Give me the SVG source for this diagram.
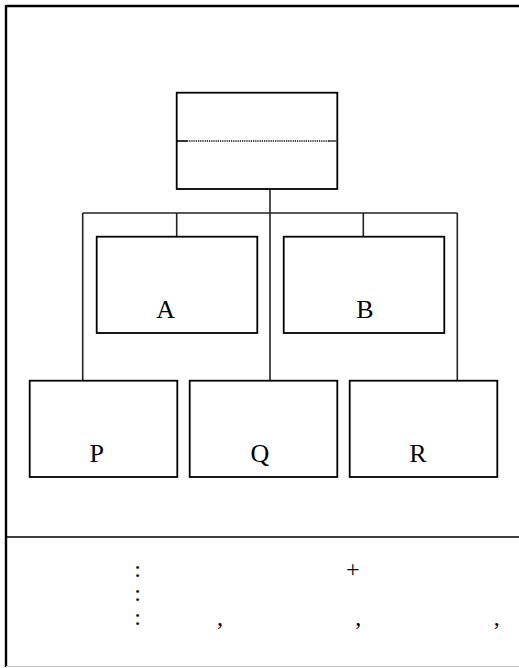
<svg xmlns="http://www.w3.org/2000/svg" width="519" height="668" viewBox="0 0 519 668">
<style>
.box{fill:#fff;stroke:#000;stroke-width:1.8}
.conn line{stroke:#222;stroke-width:1.6}
.lbl{font-family:"Liberation Serif","Times New Roman",serif;font-size:26px;fill:#000}
.ftxt{font-family:"Liberation Serif","Times New Roman",serif;font-size:24px;fill:#000}
</style>
<rect width="519" height="668" fill="#fff"/>
<g id="frame">
<line x1="6" y1="6" x2="519" y2="6" stroke="#000" stroke-width="2.4"/>
<line x1="6" y1="5" x2="6" y2="667" stroke="#000" stroke-width="2.4"/>
<line x1="6" y1="537" x2="519" y2="537" stroke="#000" stroke-width="1.6"/>
<line x1="6" y1="666.5" x2="519" y2="666.5" stroke="#c8c8c8" stroke-width="1.2"/>
</g>
<g id="connectors" class="conn">
<line x1="270" y1="189" x2="270" y2="381"/>
<line x1="82.7" y1="213" x2="457.3" y2="213"/>
<line x1="82.7" y1="213" x2="82.7" y2="381"/>
<line x1="457.3" y1="213" x2="457.3" y2="381"/>
<line x1="176.7" y1="213" x2="176.7" y2="237"/>
<line x1="363.3" y1="213" x2="363.3" y2="237"/>
</g>
<g id="top">
<rect class="box" x="176.7" y="92.7" width="160.6" height="96.3"/>
<line x1="177" y1="141" x2="187" y2="141" stroke="#000" stroke-width="1.6"/>
<line x1="187" y1="141" x2="329" y2="141" stroke="#000" stroke-width="1.6" stroke-dasharray="1.2,1"/>
<line x1="329" y1="141" x2="337" y2="141" stroke="#444" stroke-width="1.6"/>
</g>
<g id="nodeA">
<rect class="box" x="96.7" y="236.7" width="160.6" height="96.3"/>
<text class="lbl" x="165.7" y="318.3" text-anchor="middle">A</text>
</g>
<g id="nodeB">
<rect class="box" x="283.7" y="236.7" width="160.6" height="96.3"/>
<text class="lbl" x="365" y="318.3" text-anchor="middle">B</text>
</g>
<g id="nodeP">
<rect class="box" x="29.7" y="380.7" width="147.6" height="96.3"/>
<text class="lbl" x="96.7" y="462.3" text-anchor="middle">P</text>
</g>
<g id="nodeQ">
<rect class="box" x="189.7" y="380.7" width="147.6" height="96.3"/>
<text class="lbl" x="260" y="462.3" text-anchor="middle">Q</text>
</g>
<g id="nodeR">
<rect class="box" x="349.7" y="380.7" width="147.6" height="96.3"/>
<text class="lbl" x="418" y="462.3" text-anchor="middle">R</text>
</g>
<g id="footer">
<text class="ftxt" x="137.7" y="577" text-anchor="middle">:</text>
<text class="ftxt" x="137.7" y="601" text-anchor="middle">:</text>
<text class="ftxt" x="137.7" y="625" text-anchor="middle">:</text>
<text class="ftxt" x="352.7" y="577" text-anchor="middle">+</text>
<text class="ftxt" x="220" y="625" text-anchor="middle">,</text>
<text class="ftxt" x="358.3" y="625" text-anchor="middle">,</text>
<text class="ftxt" x="496.7" y="625" text-anchor="middle">,</text>
</g>
</svg>
